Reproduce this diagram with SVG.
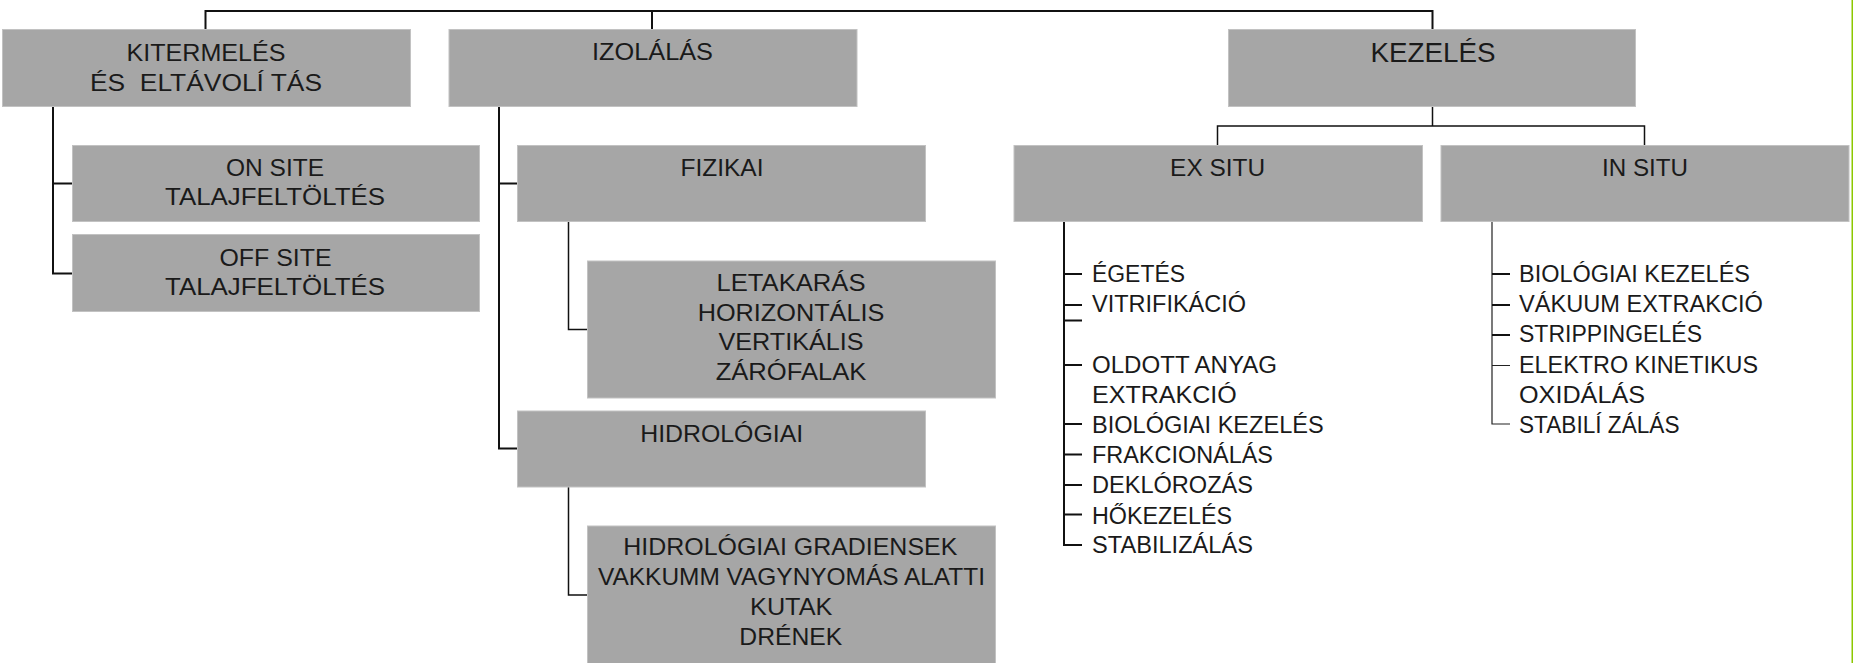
<svg xmlns="http://www.w3.org/2000/svg" width="1853" height="663" viewBox="0 0 1853 663">
<style>
.box{fill:#a6a6a6;stroke:#c2c2c2;stroke-width:1}
.t{font-family:"Liberation Sans",Arial,sans-serif;font-size:24px;fill:#1a1a1a;text-anchor:middle;white-space:pre}
.big{font-size:28px}
.l{font-family:"Liberation Sans",Arial,sans-serif;font-size:23px;fill:#1a1a1a;white-space:pre}
.c{fill:none;stroke:#111;stroke-width:2}
.c2{fill:none;stroke:#111;stroke-width:1.5}
.c1{fill:none;stroke:#222;stroke-width:1.2}
</style>
<rect x="0" y="0" width="1853" height="663" fill="#ffffff"/>
<rect x="1851.5" y="0" width="1.5" height="663" fill="#8cc800"/>
<g id="connectors">
<path class="c" d="M205.5,11 H1432.5 M205.5,10 V29 M652,10 V29 M1432.5,10 V29"/>
<path class="c" d="M53,107 V273.5 H72 M53,183.5 H72"/>
<path class="c" d="M499,107 V448.5 H517 M499,183.5 H517.5"/>
<path class="c2" d="M568.5,222 V329.5 H587"/>
<path class="c2" d="M568.5,487 V595 H587"/>
<path class="c2" d="M1432.5,107 V126 M1217.5,145 V126 H1644.5 V145"/>
<path class="c" d="M1064,222 V545 H1082 M1064,274 H1082 M1064,305 H1082 M1064,320.5 H1082 M1064,365 H1082 M1064,424 H1082 M1064,454.5 H1082 M1064,485 H1082 M1064,514.5 H1082"/>
<path class="c1" d="M1492,222 V424 H1510 M1492,365.5 H1510"/>
<path class="c" d="M1492,274 H1510 M1492,305 H1510 M1492,335 H1510"/>
</g>
<g id="kitermeles">
<rect class="box" x="2.5" y="29.5" width="408" height="77"/>
<text class="t" x="206" y="61" textLength="159" lengthAdjust="spacingAndGlyphs">KITERMELÉS</text>
<text class="t" x="206" y="90.7" textLength="232" lengthAdjust="spacingAndGlyphs">ÉS  ELTÁVOLÍ TÁS</text>
</g>
<g id="on-site">
<rect class="box" x="72.5" y="145.5" width="407" height="76"/>
<text class="t" x="275" y="176" textLength="98" lengthAdjust="spacingAndGlyphs">ON SITE</text>
<text class="t" x="275" y="205" textLength="220" lengthAdjust="spacingAndGlyphs">TALAJFELTÖLTÉS</text>
</g>
<g id="off-site">
<rect class="box" x="72.5" y="234.5" width="407" height="77"/>
<text class="t" x="275.5" y="265.7" textLength="112" lengthAdjust="spacingAndGlyphs">OFF SITE</text>
<text class="t" x="275" y="295" textLength="220" lengthAdjust="spacingAndGlyphs">TALAJFELTÖLTÉS</text>
</g>
<g id="izolalas">
<rect class="box" x="449" y="29.5" width="408" height="77"/>
<text class="t" x="652.5" y="60.3" textLength="121" lengthAdjust="spacingAndGlyphs">IZOLÁLÁS</text>
</g>
<g id="fizikai">
<rect class="box" x="517.5" y="145.5" width="408" height="76"/>
<text class="t" x="722" y="175.7" textLength="83" lengthAdjust="spacingAndGlyphs">FIZIKAI</text>
</g>
<g id="letakaras">
<rect class="box" x="587.5" y="261" width="408" height="137"/>
<text class="t" x="791" y="290.7" textLength="149" lengthAdjust="spacingAndGlyphs">LETAKARÁS</text>
<text class="t" x="791" y="320.7" textLength="186.7" lengthAdjust="spacingAndGlyphs">HORIZONTÁLIS</text>
<text class="t" x="791" y="350" textLength="145" lengthAdjust="spacingAndGlyphs">VERTIKÁLIS</text>
<text class="t" x="791" y="380" textLength="150.7" lengthAdjust="spacingAndGlyphs">ZÁRÓFALAK</text>
</g>
<g id="hidrologiai">
<rect class="box" x="517.5" y="411" width="408" height="76"/>
<text class="t" x="721.7" y="441.7" textLength="163" lengthAdjust="spacingAndGlyphs">HIDROLÓGIAI</text>
</g>
<g id="hidrologiai-gradiensek">
<rect class="box" x="587.5" y="526" width="408" height="140"/>
<text class="t" x="790.3" y="555" textLength="334" lengthAdjust="spacingAndGlyphs">HIDROLÓGIAI GRADIENSEK</text>
<text class="t" x="791.5" y="585" textLength="387" lengthAdjust="spacingAndGlyphs">VAKKUMM VAGYNYOMÁS ALATTI</text>
<text class="t" x="791.2" y="615" textLength="82.3" lengthAdjust="spacingAndGlyphs">KUTAK</text>
<text class="t" x="790.8" y="645" textLength="103" lengthAdjust="spacingAndGlyphs">DRÉNEK</text>
</g>
<g id="kezeles">
<rect class="box" x="1228.5" y="29.5" width="407" height="77"/>
<text class="t big" x="1433" y="62.3" textLength="125" lengthAdjust="spacingAndGlyphs">KEZELÉS</text>
</g>
<g id="ex-situ">
<rect class="box" x="1014" y="145.5" width="408.5" height="76"/>
<text class="t" x="1217.6" y="175.7" textLength="95" lengthAdjust="spacingAndGlyphs">EX SITU</text>
<text class="l" x="1092" y="281.7" textLength="93" lengthAdjust="spacingAndGlyphs">ÉGETÉS</text>
<text class="l" x="1092" y="311.7" textLength="154" lengthAdjust="spacingAndGlyphs">VITRIFIKÁCIÓ</text>
<text class="l" x="1092" y="373" textLength="185" lengthAdjust="spacingAndGlyphs">OLDOTT ANYAG</text>
<text class="l" x="1092" y="403" textLength="144.7" lengthAdjust="spacingAndGlyphs">EXTRAKCIÓ</text>
<text class="l" x="1092" y="433" textLength="231.7" lengthAdjust="spacingAndGlyphs">BIOLÓGIAI KEZELÉS</text>
<text class="l" x="1092" y="463.3" textLength="181" lengthAdjust="spacingAndGlyphs">FRAKCIONÁLÁS</text>
<text class="l" x="1092" y="493.3" textLength="161" lengthAdjust="spacingAndGlyphs">DEKLÓROZÁS</text>
<text class="l" x="1092" y="523.5" textLength="140" lengthAdjust="spacingAndGlyphs">HŐKEZELÉS</text>
<text class="l" x="1092" y="553.3" textLength="161" lengthAdjust="spacingAndGlyphs">STABILIZÁLÁS</text>
</g>
<g id="in-situ">
<rect class="box" x="1441" y="145.5" width="408" height="76"/>
<text class="t" x="1645" y="175.7" textLength="86" lengthAdjust="spacingAndGlyphs">IN SITU</text>
<text class="l" x="1519" y="281.7" textLength="231" lengthAdjust="spacingAndGlyphs">BIOLÓGIAI KEZELÉS</text>
<text class="l" x="1519" y="311.7" textLength="244" lengthAdjust="spacingAndGlyphs">VÁKUUM EXTRAKCIÓ</text>
<text class="l" x="1519" y="342" textLength="183" lengthAdjust="spacingAndGlyphs">STRIPPINGELÉS</text>
<text class="l" x="1519" y="372.7" textLength="239" lengthAdjust="spacingAndGlyphs">ELEKTRO KINETIKUS</text>
<text class="l" x="1519" y="402.7" textLength="126" lengthAdjust="spacingAndGlyphs">OXIDÁLÁS</text>
<text class="l" x="1519" y="432.7" textLength="160.5" lengthAdjust="spacingAndGlyphs">STABILÍ ZÁLÁS</text>
</g>
</svg>
